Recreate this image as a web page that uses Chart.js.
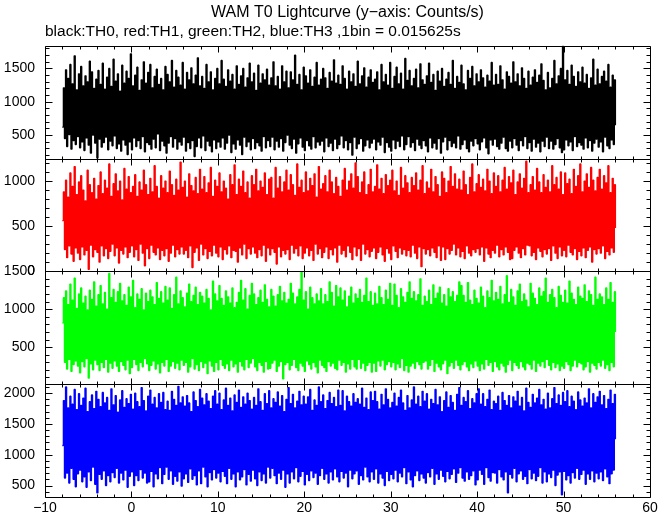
<!DOCTYPE html>
<html>
<head>
<meta charset="utf-8">
<script src="https://cdn.jsdelivr.net/npm/chart.js@4/dist/chart.umd.min.js"></script>
<style>
  html, body { margin: 0; padding: 0; background: #fff; }
  #wrap { position: relative; width: 672px; height: 515px; }
</style>
</head>
<body>
<div id="wrap"><canvas id="c" width="672" height="515"></canvas></div>
<script>
const T_START = -8;
const T_STEP = 0.125;

const xTicks = [-10, 0, 10, 20, 30, 40, 50, 60];
const blackTicks = [500, 1000, 1500];
const redTicks = [0, 500, 1000];
const greenTicks = [500, 1000, 1500];
const blueTicks = [500, 1000, 1500, 2000];

// panel ranges (y-axis limits)
const blackRange = [150, 1840];
const redRange = [0, 1250];
const greenRange = [15, 1500];
const blueRange = [320, 2150];

const th0Black = [
620,1210,450,1480,330,1350,510,1560,290,1270,420,1690,360,1180,480,1420,
310,1530,400,1240,270,1390,460,1300,350,1610,230,1450,500,1200,380,1340,
150,1470,440,1260,320,1580,390,1190,470,1370,280,1500,410,1230,340,1640,
490,1310,300,1420,370,1160,260,1550,430,1280,350,1460,210,1350,400,1720,
280,1240,460,1400,330,1520,420,1170,300,1330,480,1600,250,1280,390,1440,
360,1560,290,1210,440,1380,310,1490,520,1260,270,1350,410,1180,340,1530,
230,1410,380,1300,480,1620,320,1220,450,1470,290,1370,400,1250,350,1590,
470,1190,260,1440,390,1330,300,1510,420,1270,180,1400,330,1660,460,1240,
310,1380,490,1200,270,1560,410,1300,340,1450,250,1180,430,1350,300,1500,
400,1270,320,1620,460,1340,290,1230,380,1480,500,1310,240,1410,370,1190,
290,1540,430,1260,350,1390,210,1500,470,1220,330,1360,400,1580,280,1300,
450,1430,300,1170,390,1550,340,1280,260,1420,480,1330,310,1490,420,1250,
330,1360,470,1600,280,1240,410,1380,320,1190,450,1540,260,1300,390,1460,
500,1210,350,1450,300,1330,440,1700,230,1260,370,1410,460,1180,320,1520,
270,1390,420,1280,340,1480,290,1230,480,1370,310,1590,400,1250,350,1340,
410,1500,250,1360,460,1200,330,1440,380,1310,270,1630,440,1280,300,1400,
360,1260,490,1540,310,1350,420,1190,280,1460,390,1300,200,1420,470,1230,
300,1610,370,1270,450,1390,260,1510,340,1220,430,1370,310,1480,380,1290,
440,1340,280,1450,400,1180,350,1560,470,1300,240,1410,390,1250,320,1590,
260,1200,430,1380,300,1520,410,1270,330,1430,490,1190,280,1650,360,1320,
480,1470,320,1240,390,1350,270,1490,440,1210,350,1570,300,1330,420,1260,
340,1390,250,1580,460,1290,310,1410,380,1170,290,1460,450,1310,230,1500,
400,1230,470,1340,280,1440,420,1260,330,1620,380,1200,310,1380,490,1290,
290,1550,360,1270,430,1180,300,1470,250,1350,410,1530,340,1240,450,1420,
370,1300,280,1480,400,1360,460,1220,310,1400,220,1310,430,1590,350,1250,
440,1410,330,1260,290,1540,380,1330,470,1190,300,1450,260,1380,410,1280,
310,1600,450,1300,350,1420,270,1240,420,1510,340,1350,480,1200,300,1460,
390,1250,260,1370,440,1480,320,1290,380,1400,250,1570,410,1320,330,1180,
470,1440,300,1210,410,1350,290,1620,360,1270,450,1390,310,1500,240,1840,
280,1330,430,1470,340,1260,400,1550,270,1380,480,1230,330,1450,390,1300,
350,1520,290,1280,460,1410,310,1200,420,1360,260,1640,380,1250,440,1490,
320,1270,400,1380,250,1460,470,1310,340,1560,300,1220,430,1400,360,1330,
650];

const th1Red = [
560,880,240,1010,150,820,280,1090,190,940,110,1160,260,850,200,990,
130,1060,270,900,180,780,230,1120,20,960,290,870,160,1030,240,800,
210,950,100,1100,280,860,170,1010,250,920,140,1190,220,830,300,970,
170,1080,260,890,90,1000,230,790,190,1140,270,910,150,1050,210,870,
280,940,160,1070,240,830,120,990,300,900,200,1120,60,960,250,850,
140,1030,290,880,210,1170,180,940,260,810,130,1060,230,920,170,1000,
250,870,110,1110,200,960,290,840,160,1020,240,900,190,1210,270,930,
190,1000,230,820,150,1080,280,950,40,890,210,1040,260,860,120,1130,
300,910,180,1050,250,870,140,980,220,1150,170,830,290,1010,200,940,
160,1090,270,880,130,1000,240,920,190,800,280,1070,150,960,230,1180,
220,850,100,1020,260,940,180,1110,300,870,140,990,250,810,190,1060,
270,960,200,1130,150,890,240,1000,170,930,290,1090,110,850,260,1020,
180,1040,250,810,210,1150,80,920,270,1050,160,880,230,990,190,1120,
240,900,130,1070,290,960,200,840,250,1190,170,930,280,1010,140,870,
200,1100,260,890,170,1030,230,950,120,1080,300,820,190,1160,250,910,
150,970,210,1060,270,880,140,1120,240,990,180,860,260,1040,100,940,
290,830,190,1010,230,1140,160,900,280,1000,210,1080,130,920,270,1200,
170,1050,250,870,120,990,300,1100,190,850,240,960,160,1130,220,880,
260,940,140,1180,210,910,270,1030,180,860,110,1070,250,950,200,1010,
130,1120,280,890,220,1000,150,840,260,1150,190,920,240,1060,170,980,
230,870,160,1040,290,950,200,1090,140,900,270,1010,50,1170,250,860,
190,990,240,920,170,1130,260,880,210,1050,150,960,280,830,120,1100,
270,1030,130,870,250,1000,190,1160,230,940,300,1080,180,910,260,1020,
160,900,220,1110,140,960,280,850,200,1040,170,1190,240,880,210,970,
250,1070,180,930,270,1020,110,890,260,1130,190,1000,150,860,230,1090,
200,940,290,1060,160,880,240,1010,180,1150,270,910,210,1050,130,980,
140,1120,230,850,270,990,200,1080,150,920,250,1030,180,1220,290,870,
280,960,170,1050,210,900,130,1140,260,990,220,870,160,1070,240,930,
190,1010,250,880,120,1170,280,960,200,1040,140,910,270,1100,170,850,
230,1090,160,970,290,1020,210,860,180,1130,250,940,130,1060,220,1190,
170,880,260,1000,150,1080,230,930,270,1150,100,1010,240,890,190,1040,
250,1130,200,910,280,1060,140,980,220,1170,180,870,260,1030,210,960,
480];

const th2Green = [
820,1150,300,1240,210,1060,340,1330,180,1120,270,1410,320,1010,250,1200,
160,1280,310,1080,240,1170,350,990,90,1250,280,1130,200,1360,330,1040,
270,1190,190,1310,300,1070,230,1220,340,1000,170,1470,290,1150,220,1260,
320,1090,250,1230,180,1340,310,1110,260,1190,200,1050,330,1290,150,1160,
230,1380,340,1020,270,1200,190,1130,300,1270,240,990,350,1210,280,1100,
190,1250,260,1160,320,1060,210,1350,280,1140,160,1230,300,1080,250,1300,
340,1120,180,1280,250,1010,310,1190,220,1420,290,1070,200,1240,330,1150,
260,1030,300,1210,170,1330,240,1100,350,1180,210,1290,270,1060,190,1220,
310,1170,230,1080,290,1260,150,1140,320,990,250,1370,180,1200,300,1110,
200,1310,340,1140,260,1050,220,1240,280,1160,190,1080,330,1280,240,1020,
280,1090,170,1220,310,1380,250,1120,200,1270,340,1000,230,1180,290,1340,
350,1200,240,1060,190,1150,300,1250,260,1090,170,1320,310,1130,210,1030,
220,1260,290,1170,330,1040,180,1190,250,1300,310,1110,80,1220,270,1080,
300,1130,200,1340,260,1210,340,1070,230,1160,190,1260,290,1490,250,1120,
180,1230,320,1000,270,1290,210,1150,300,1070,240,1200,160,1110,330,1270,
260,1070,230,1190,180,1100,310,1360,250,1220,290,1040,220,1310,200,1160,
330,1280,260,1120,300,1240,170,1030,280,1170,210,1290,340,1080,240,1200,
210,1140,340,1260,220,1090,290,1180,190,1410,260,1100,300,1230,170,1050,
290,1210,180,1070,320,1300,250,1150,330,1060,200,1250,270,1130,310,1340,
240,1050,300,1330,200,1180,280,1020,230,1270,350,1160,190,1090,260,1220,
170,1360,250,1140,290,1230,220,1110,310,1190,270,1400,210,1050,300,1170,
320,1100,210,1250,260,1060,340,1320,180,1140,290,1210,240,1290,200,1080,
280,1190,330,1040,150,1270,250,1160,300,1230,220,1100,330,1180,260,1360,
200,1310,270,1180,310,1090,240,1350,190,1120,280,1060,230,1250,320,1140,
250,1080,190,1290,280,1170,210,1020,340,1240,260,1150,300,1380,180,1110,
310,1220,240,1130,200,1300,290,1070,250,1190,170,1440,270,1090,330,1260,
190,1160,300,1050,260,1240,220,1330,310,1100,240,1200,200,1120,290,1030,
270,1340,210,1210,330,1140,180,1060,290,1280,250,1170,310,1230,230,1410,
340,1090,260,1190,200,1260,300,1150,230,1020,280,1300,190,1180,250,1090,
220,1250,310,1080,270,1370,190,1210,250,1130,330,1060,240,1290,300,1170,
280,1140,200,1320,240,1100,310,1240,170,1190,290,1050,260,1420,210,1130,
300,1200,250,1160,330,1060,220,1280,270,1130,190,1350,300,1090,240,1230,
700];

const th3Blue = [
1150,1880,620,2100,700,1760,540,1950,780,1820,600,2060,480,1730,690,1990,
750,1800,560,1920,640,2080,470,1700,720,1860,580,1970,800,1750,520,2030,
380,1900,680,1780,600,2010,740,1840,500,1930,660,1720,560,2070,710,1810,
630,1960,780,1690,540,1890,700,2040,590,1770,750,1910,470,1830,650,1980,
720,1740,500,2000,660,1860,580,1780,760,2090,620,1880,700,1710,540,1950,
560,2050,730,1820,480,1930,690,1760,610,1990,790,1850,530,2010,680,1730,
800,1870,600,1720,740,2030,520,1900,650,1800,570,2110,720,1840,490,1940,
610,1790,690,1960,550,1840,770,1700,600,2020,660,1880,510,1780,740,2060,
530,1920,800,1810,640,1990,480,1870,710,1750,590,1950,760,2040,620,1820,
700,2000,560,1730,730,1890,650,2080,530,1800,780,1920,600,1710,690,1970,
480,1850,720,2050,590,1770,640,1940,760,1820,510,2000,680,1880,570,1740,
750,1930,610,1800,500,2070,720,1860,580,1720,690,1990,540,1830,800,2040,
620,1760,780,1910,660,1850,530,2020,700,1790,600,1960,750,1700,470,1900,
690,2090,540,1830,720,1980,610,1760,790,1870,560,2030,650,1810,730,1950,
510,1820,680,1940,580,2060,740,1720,630,1890,700,1800,520,2100,660,1860,
780,1970,600,1750,690,1880,540,2010,720,1830,590,1930,770,1780,640,2050,
560,1800,730,2040,620,1710,700,1950,480,1860,750,1790,610,1990,690,1850,
740,1910,520,1820,660,2080,590,1770,800,1920,640,1730,560,2020,720,1880,
600,2030,770,1860,540,1740,690,1980,620,1810,500,2070,730,1900,580,1760,
680,1850,610,2000,750,1790,560,1930,700,2050,640,1840,790,1720,530,1960,
720,1760,590,1890,480,2100,660,1820,740,1950,580,1780,690,2030,620,1870,
540,1990,710,1740,640,1900,780,1830,520,2060,690,1810,600,1940,750,1700,
650,1880,560,2020,730,1770,610,1960,680,1850,770,1720,550,1980,700,2090,
790,1800,620,1930,570,1860,720,2040,600,1750,660,1910,740,1840,510,1990,
590,2070,750,1820,680,1990,520,1780,790,1900,630,2050,570,1730,710,1870,
700,1830,540,1950,760,1720,640,2010,590,1880,720,1800,380,1960,680,1760,
620,1940,780,1870,560,2030,690,1790,740,1930,600,1710,650,2080,530,1850,
760,1770,610,1980,700,1840,580,1920,650,2060,790,1810,540,1900,720,1740,
560,2000,690,1760,630,1910,750,2090,500,1830,670,1970,720,1800,350,2010,
730,1860,590,2040,660,1780,540,1950,710,1870,620,1730,780,2020,600,1890,
680,1790,750,1920,520,1840,690,2070,600,1760,740,1990,560,1850,700,1940,
610,2030,720,1810,580,1960,770,1750,640,1900,530,2050,690,1830,750,1980,
1250];

const titleText = 'WAM T0 Lightcurve (y\u2212axis: Counts/s)';
const subtitleText = 'black:TH0, red:TH1, green:TH2, blue:TH3 ,1bin = 0.015625s';

// ---- build ----
function toPoints(arr) {
  return arr.map((v, i) => ({ x: T_START + i * T_STEP, y: v }));
}

Chart.defaults.font.family = '"Liberation Sans", Arial, Helvetica, sans-serif';
Chart.defaults.font.size = 14;
Chart.defaults.color = '#000';

function yScale(range, tickVals) {
  return {
    type: 'linear',
    position: 'left',
    stack: 'panels',
    stackWeight: 1,
    offset: false,
    min: range[0],
    max: range[1],
    grid: { display: false, drawTicks: false },
    border: { display: false },
    afterBuildTicks: (s) => { s.ticks = tickVals.map(v => ({ value: v })); },
    ticks: {
      autoSkip: false,
      padding: 10,
      color: '#000',
      font: { size: 14 },
      callback: (v) => String(v)
    },
    afterFit: (s) => { s.width = 45; }
  };
}

const panelIds = ['yBlack', 'yRed', 'yGreen', 'yBlue'];

const framePlugin = {
  id: 'frames',
  afterDatasetsDraw(chart) {
    const ctx = chart.ctx;
    const xs = chart.scales.x;
    const L = Math.round(chart.chartArea.left) + 0.5;
    const R = Math.round(chart.chartArea.right) + 0.5;
    ctx.save();
    ctx.strokeStyle = '#000';
    ctx.lineWidth = 1;
    ctx.beginPath();
    for (const id of panelIds) {
      const sc = chart.scales[id];
      const T = Math.round(sc.top) + 0.5;
      const B = Math.round(sc.bottom) + 0.5;
      ctx.rect(L, T, R - L, B - T);
      // y ticks, inward on both sides (major 500, minor 100)
      for (let v = Math.ceil(sc.min / 100) * 100; v <= sc.max; v += 100) {
        const py = Math.round(sc.getPixelForValue(v)) + 0.5;
        const len = (v % 500 === 0) ? 7 : 4;
        ctx.moveTo(L, py); ctx.lineTo(L + len, py);
        ctx.moveTo(R, py); ctx.lineTo(R - len, py);
      }
      // x ticks, inward at top and bottom (major 10, minor 2)
      for (let v = xs.min; v <= xs.max; v += 2) {
        const px = Math.round(xs.getPixelForValue(v)) + 0.5;
        const len = (v % 10 === 0) ? 6 : 3;
        ctx.moveTo(px, T); ctx.lineTo(px, T + len);
        ctx.moveTo(px, B); ctx.lineTo(px, B - len);
      }
    }
    ctx.stroke();
    ctx.restore();
  }
};

const scales = {
  x: {
    type: 'linear',
    min: xTicks[0],
    max: xTicks[xTicks.length - 1],
    grid: { display: false, drawTicks: false },
    border: { display: false },
    afterBuildTicks: (s) => { s.ticks = xTicks.map(v => ({ value: v })); },
    ticks: {
      autoSkip: false,
      maxRotation: 0,
      padding: 3,
      color: '#000',
      font: { size: 14 },
      callback: (v) => String(v).replace('-', '\u2212')
    },
    afterFit: (s) => { s.height = 18; }
  },
  yBlue: yScale(blueRange, blueTicks),
  yGreen: yScale(greenRange, greenTicks),
  yRed: yScale(redRange, redTicks),
  yBlack: yScale(blackRange, blackTicks)
};

function ds(label, arr, color, axis) {
  return {
    label,
    data: toPoints(arr),
    borderColor: color,
    backgroundColor: color,
    borderWidth: 1.3,
    borderJoinStyle: 'bevel',
    stepped: true,
    pointRadius: 0,
    tension: 0,
    fill: false,
    xAxisID: 'x',
    yAxisID: axis
  };
}

new Chart(document.getElementById('c'), {
  type: 'line',
  data: {
    datasets: [
      ds('TH0', th0Black, '#000000', 'yBlack'),
      ds('TH1', th1Red, '#ff0000', 'yRed'),
      ds('TH2', th2Green, '#00ff00', 'yGreen'),
      ds('TH3', th3Blue, '#0000ff', 'yBlue')
    ]
  },
  options: {
    responsive: false,
    animation: false,
    events: [],
    layout: { padding: { left: 0, right: 22, top: 0, bottom: 0 } },
    scales,
    plugins: {
      legend: { display: false },
      tooltip: { enabled: false },
      title: {
        display: true,
        text: titleText,
        fullSize: false,
        align: 'center',
        color: '#000',
        font: { size: 16, weight: 'normal' },
        padding: { top: 3, bottom: 0 }
      },
      subtitle: {
        display: true,
        text: subtitleText,
        fullSize: false,
        align: 'start',
        color: '#000',
        font: { size: 15.5, weight: 'normal' },
        padding: { top: 0, bottom: 5 }
      }
    }
  },
  plugins: [framePlugin]
});
</script>
</body>
</html>
